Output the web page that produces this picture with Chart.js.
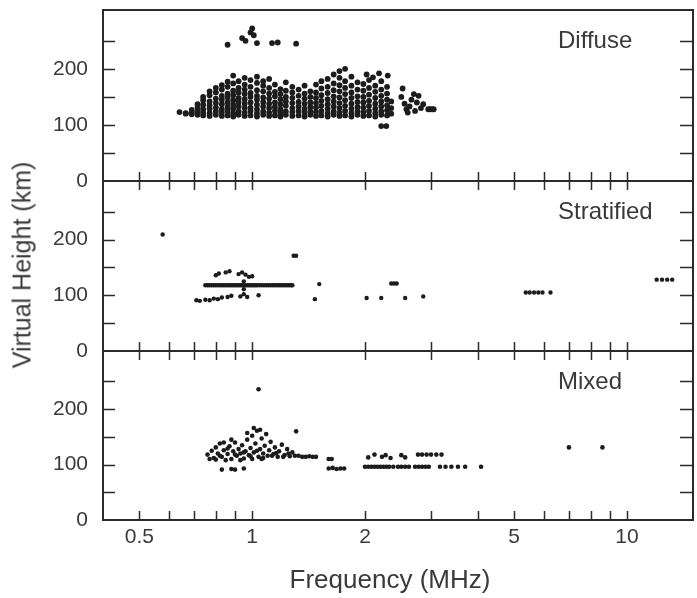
<!DOCTYPE html>
<html>
<head>
<meta charset="utf-8">
<script src="https://cdn.jsdelivr.net/npm/chart.js@4.4.1/dist/chart.umd.min.js"></script>
<style>
body { margin: 0; background: #fff; width: 697px; height: 598px; position: relative; overflow: hidden; font-family: "Liberation Sans", Arial, sans-serif; color: #3a3a3a; }
canvas { position: absolute; left: 0; top: 0; }
#xtitle { position: absolute; left: 0; width: 780px; top: 564px; text-align: center; font-size: 26px; }
#ytitle { position: absolute; left: 22px; top: 265px; transform: translate(-50%, -50%) rotate(-90deg); white-space: nowrap; font-size: 25px; }
</style>
</head>
<body>
<canvas id="c1" width="697" height="598"></canvas>
<canvas id="c2" width="697" height="598"></canvas>
<canvas id="c3" width="697" height="598"></canvas>
<div id="xtitle">Frequency (MHz)</div>
<div id="ytitle">Virtual Height (km)</div>
<script>
"use strict";

//Axis ticks and labels.
var xTicks = [0.5, 0.6, 0.7, 0.8, 0.9, 1, 2, 3, 4, 5, 6, 7, 8, 9, 10];
var xLabels = [0.5, 1, 2, 5, 10];
var yTicks = [50, 100, 150, 200, 250];
var yLabels = [0, 100, 200];
var panelNames = ["Diffuse", "Stratified", "Mixed"];

//Diffuse echoes, one row per frequency column: [MHz, heights (km)...]
var diffuseColumns = [
    [0.64, 123],
    [0.665, 120, 121],
    [0.69, 119, 122, 127],
    [0.715, 118, 124, 131, 137],
    [0.74, 117, 122, 128, 136, 144, 150],
    [0.77, 116, 121, 129, 135, 142, 153, 160],
    [0.80, 118, 124, 131, 139, 147, 158, 166],
    [0.83, 116, 122, 128, 137, 145, 152, 163, 171],
    [0.86, 117, 125, 132, 140, 149, 156, 168, 177],
    [0.89, 115, 121, 129, 136, 144, 153, 161, 174, 188],
    [0.92, 118, 124, 133, 141, 148, 158, 166, 178],
    [0.955, 116, 122, 130, 138, 146, 155, 163, 172, 184],
    [0.99, 117, 125, 131, 140, 150, 157, 168, 180],
    [1.03, 115, 121, 128, 136, 145, 152, 162, 175, 186],
    [1.07, 118, 124, 133, 141, 149, 160, 170, 178],
    [1.11, 116, 122, 130, 138, 147, 156, 166, 182],
    [1.15, 117, 125, 132, 140, 151, 159, 172],
    [1.19, 115, 121, 128, 137, 146, 155, 164],
    [1.23, 118, 124, 134, 142, 150, 161, 176],
    [1.28, 116, 123, 130, 139, 148, 158, 168],
    [1.33, 117, 125, 133, 141, 152, 163],
    [1.38, 115, 122, 129, 138, 147, 156, 170],
    [1.43, 118, 124, 132, 140, 150, 160],
    [1.48, 116, 123, 131, 139, 148, 158, 172],
    [1.53, 117, 125, 134, 143, 153, 165, 178],
    [1.59, 115, 121, 129, 137, 146, 157, 168, 182],
    [1.65, 118, 124, 133, 142, 151, 162, 174, 190],
    [1.71, 116, 122, 130, 139, 149, 160, 171, 184, 196],
    [1.77, 117, 125, 134, 144, 155, 166, 178, 200],
    [1.84, 115, 121, 129, 138, 148, 158, 170, 186],
    [1.91, 118, 124, 132, 141, 151, 163, 176],
    [1.98, 116, 123, 131, 140, 150, 161, 173],
    [2.05, 117, 125, 134, 143, 154, 166, 180],
    [2.13, 115, 121, 129, 138, 148, 159, 170],
    [2.21, 118, 124, 133, 142, 152, 163, 178],
    [2.29, 117, 126, 135, 145, 156, 168],
    [2.35, 120, 130, 142]
];

//Sparse diffuse echoes outside the main cloud.
var diffuseExtra = [
    [2.5, 150], [2.52, 165], [2.55, 138], [2.58, 128], [2.6, 122], [2.63, 133], [2.66, 145],
    [2.7, 155], [2.72, 125], [2.75, 140], [2.78, 152], [2.82, 130], [2.86, 137],
    [2.95, 128], [2.98, 128], [3.02, 128], [3.05, 128],
    [2.21, 98], [2.28, 98],
    [2.02, 190], [2.1, 185], [2.18, 192], [2.3, 188],
    [0.86, 243], [0.94, 255], [0.96, 250], [0.99, 265], [1.0, 272], [1.01, 260],
    [1.03, 246], [1.13, 246], [1.17, 247], [1.31, 245]
];

var stratifiedPts = [
    [0.577, 209],
    [0.75, 118], [0.76, 118], [0.77, 118], [0.78, 118], [0.79, 118], [0.80, 118], [0.81, 118],
    [0.82, 118], [0.83, 118], [0.84, 118], [0.85, 118], [0.86, 118], [0.87, 118], [0.88, 118],
    [0.89, 118], [0.90, 118], [0.91, 118], [0.92, 118], [0.93, 118], [0.94, 118], [0.95, 118],
    [0.96, 118], [0.97, 118], [0.98, 118], [0.99, 118], [1.0, 118], [1.01, 118], [1.02, 118],
    [1.03, 118], [1.045, 118], [1.06, 118], [1.075, 118], [1.09, 118], [1.105, 118], [1.12, 118],
    [1.135, 118], [1.15, 118], [1.165, 118], [1.18, 118], [1.195, 118], [1.21, 118], [1.225, 118],
    [1.24, 118], [1.255, 118], [1.27, 118], [1.28, 118], [0.95, 125], [0.95, 111],
    [0.80, 136], [0.815, 139], [0.85, 141], [0.87, 143],
    [0.92, 138], [0.94, 141], [0.96, 137], [0.98, 133], [1.0, 134],
    [0.71, 91], [0.725, 90], [0.75, 92], [0.77, 91], [0.79, 94], [0.81, 93], [0.83, 96],
    [0.86, 97], [0.88, 99], [0.93, 98], [0.95, 102], [0.97, 97], [1.04, 100],
    [1.29, 171], [1.31, 171],
    [1.51, 120], [1.47, 93],
    [2.02, 95], [2.21, 95], [2.56, 95], [2.86, 98],
    [2.35, 121], [2.39, 121], [2.43, 121],
    [5.37, 105], [5.5, 105], [5.65, 105], [5.8, 105], [5.95, 105], [6.25, 105],
    [12.0, 128], [12.4, 128], [12.8, 128], [13.2, 128]
];

var mixedPts = [
    [1.04, 236], [1.31, 160],
    [0.76, 118], [0.78, 125], [0.79, 112], [0.80, 131], [0.81, 120], [0.82, 138],
    [0.83, 114], [0.84, 126], [0.86, 119], [0.87, 133], [0.88, 110], [0.89, 124],
    [0.90, 140], [0.91, 116], [0.92, 128], [0.93, 120], [0.94, 135], [0.95, 111],
    [0.96, 124], [0.97, 145], [0.98, 117], [0.99, 130], [1.0, 152], [1.01, 122],
    [1.02, 138], [1.03, 161], [1.04, 114], [1.05, 128], [1.06, 147], [1.07, 120],
    [1.08, 134], [1.09, 155], [1.10, 116], [1.11, 126], [1.12, 141], [1.14, 119],
    [1.15, 131], [1.17, 114], [1.18, 124], [1.20, 136], [1.22, 117], [1.24, 128],
    [1.26, 115], [1.28, 122], [0.80, 109], [0.85, 108], [0.93, 108], [1.0, 110],
    [1.06, 110], [0.88, 145], [0.84, 140], [0.97, 157], [1.01, 166], [1.05, 163],
    [0.77, 110], [0.82, 116], [0.86, 129], [0.90, 118], [0.95, 122], [0.99, 115],
    [1.03, 125], [1.07, 112], [1.13, 116], [1.16, 121], [1.21, 114], [1.25, 120],
    [1.30, 116], [1.33, 116], [1.36, 114], [1.39, 114], [1.42, 115], [1.45, 114], [1.48, 114],
    [0.83, 91], [0.88, 92], [0.90, 91], [0.95, 93],
    [1.6, 110], [1.63, 110], [1.6, 93], [1.64, 94], [1.68, 92], [1.72, 93], [1.76, 93],
    [2.0, 96], [2.04, 96], [2.08, 96], [2.12, 96], [2.16, 96], [2.2, 96], [2.24, 96],
    [2.28, 96], [2.32, 96], [2.38, 96], [2.45, 96], [2.5, 96], [2.56, 96], [2.62, 96],
    [2.72, 96], [2.78, 96], [2.84, 96], [2.9, 96], [2.96, 96],
    [3.17, 96], [3.28, 96], [3.4, 96], [3.54, 96], [3.7, 96], [4.08, 96],
    [2.04, 113], [2.12, 118], [2.22, 114], [2.27, 117], [2.34, 112], [2.5, 117], [2.56, 113],
    [2.77, 118], [2.84, 118], [2.92, 118], [3.0, 118], [3.1, 118], [3.2, 118],
    [7.0, 131], [8.6, 131]
];

function columnsToPoints(columns) {
    var pts = [];
    columns.forEach(function (col) {
        for (var i = 1; i < col.length; i++) {
            pts.push({ x: col[0], y: col[i] });
        }
    });
    return pts;
}

function pairsToPoints(pairs) {
    return pairs.map(function (p) { return { x: p[0], y: p[1] }; });
}

var ink = "#2b2b2b";
var textInk = "#3a3a3a";

//Draws the frame, inward ticks, tick labels and the panel name.
var framePlugin = {
    id: "frame",
    afterDatasetsDraw: function (chart, args, opts) {
        var ctx = chart.ctx;
        var a = chart.chartArea;
        var xs = chart.scales.x;
        var ys = chart.scales.y;
        ctx.save();
        ctx.strokeStyle = ink;
        ctx.lineWidth = 2;
        ctx.strokeRect(a.left, a.top, a.right - a.left, a.bottom - a.top);
        ctx.lineWidth = 1.5;
        ctx.beginPath();
        xTicks.forEach(function (v) {
            var px = Math.round(xs.getPixelForValue(v)) + 0.5;
            ctx.moveTo(px, a.bottom);
            ctx.lineTo(px, a.bottom - 9);
            if (opts.topTicks) {
                ctx.moveTo(px, a.top);
                ctx.lineTo(px, a.top + 9);
            }
        });
        yTicks.forEach(function (v) {
            var py = Math.round(ys.getPixelForValue(v)) + 0.5;
            ctx.moveTo(a.left, py);
            ctx.lineTo(a.left + 12, py);
            ctx.moveTo(a.right, py);
            ctx.lineTo(a.right - 13, py);
        });
        ctx.stroke();

        ctx.fillStyle = textInk;
        ctx.font = "21px 'Liberation Sans', Arial, sans-serif";
        ctx.textAlign = "right";
        ctx.textBaseline = "middle";
        yLabels.forEach(function (v) {
            ctx.fillText(String(v), a.left - 15, ys.getPixelForValue(v));
        });
        if (opts.xLabels) {
            ctx.textAlign = "center";
            xLabels.forEach(function (v) {
                ctx.fillText(String(v), xs.getPixelForValue(v), a.bottom + 17);
            });
        }
        ctx.font = "24px 'Liberation Sans', Arial, sans-serif";
        ctx.textAlign = "left";
        ctx.fillText(opts.name, 558, a.top + 31);
        ctx.restore();
    }
};

function makePanel(canvasId, name, top, bottom, points, radius, isBottom, topTicks) {
    return new Chart(document.getElementById(canvasId), {
        type: "scatter",
        data: {
            datasets: [{
                data: points,
                pointRadius: radius,
                pointBackgroundColor: "#1c1c1c",
                pointBorderWidth: 0
            }]
        },
        options: {
            responsive: false,
            animation: false,
            events: [],
            layout: { padding: { left: 103, right: 2, top: top, bottom: 598 - bottom } },
            plugins: {
                legend: { display: false },
                tooltip: { enabled: false },
                frame: { name: name, xLabels: isBottom, topTicks: topTicks }
            },
            scales: {
                x: { type: "logarithmic", min: 0.4, max: 15, display: false },
                y: { type: "linear", min: 0, max: 305, display: false }
            }
        },
        plugins: [framePlugin]
    });
}

var diffusePts = columnsToPoints(diffuseColumns).concat(pairsToPoints(diffuseExtra));
makePanel("c1", panelNames[0], 10, 181, diffusePts, 2.9, false, false);
makePanel("c2", panelNames[1], 181, 351, pairsToPoints(stratifiedPts), 2.2, false, true);
makePanel("c3", panelNames[2], 351, 520, pairsToPoints(mixedPts), 2.3, true, true);
</script>
</body>
</html>
